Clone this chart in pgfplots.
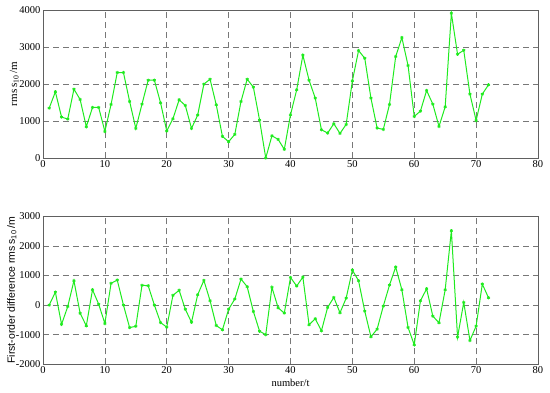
\documentclass[border=0pt]{standalone}
\usepackage{pgfplots}
\pgfplotsset{compat=1.18}
\usepackage{fontspec}
\setmainfont{Liberation Serif}
\newfontfamily\labsans{Liberation Sans}
\definecolor{lgreen}{RGB}{30,235,30}
\definecolor{gridc}{RGB}{120,120,120}

\pgfplotsset{
  panel/.style={
    scale only axis,
    width=495pt, height=148pt,
    xmin=0, xmax=80, xtick={0,10,...,80},
    grid=major,
    major grid style={gridc, dashed, dash pattern=on 6pt off 4pt, line width=0.6pt},
    axis line style={gridc!80!black, line width=0.6pt},
    tick style={draw=none},
    ticklabel style={font=\fontsize{10.5}{10.5}\selectfont},
    /pgf/number format/assume math mode=true,
    /pgf/number format/1000 sep={},
    xticklabel style={yshift=1pt},
    yticklabel style={xshift=1pt},
  },
  series/.style={lgreen, line width=1pt, mark=asterisk, mark size=1.6pt,
    mark options={solid, line width=0.8pt}},
}

\begin{document}
\begin{tikzpicture}[x=1pt,y=1pt]
\useasboundingbox (0,0) rectangle (550,392);

% top panel: rms s10
\begin{axis}[panel, at={(43pt,234pt)}, anchor=south west,
  ymin=0, ymax=4000, ytick={0,1000,...,4000},
  ylabel={rms\,s\textsubscript{10}\,/m},
  ylabel style={font=\fontsize{11}{11}\selectfont, anchor=center, at={(axis description cs:-0.058,0.5)}},
]
\addplot[series] coordinates {
(1,1348) (2,1789) (3,1106) (4,1052) (5,1861) (6,1582) (7,845) (8,1366) (9,1366) (10,719)
(11,1447) (12,2310) (13,2310) (14,1528) (15,800) (16,1456) (17,2103) (18,2103) (19,1492) (20,728)
(21,1061) (22,1573) (23,1420) (24,800) (25,1160) (26,1996) (27,2130) (28,1438) (29,584) (30,440)
(31,638) (32,1528) (33,2130) (34,1915) (35,1025) (36,0) (37,600) (38,503) (39,234) (40,1169)
(41,1843) (42,2778) (43,2103) (44,1618) (45,764) (46,674) (47,926) (48,665) (49,908) (50,2085)
(51,2903) (52,2697) (53,1618) (54,809) (55,773) (56,1447) (57,2742) (58,3254) (59,2499) (60,1124)
(61,1267) (62,1825) (63,1456) (64,854) (65,1384) (66,3910) (67,2804) (68,2912) (69,1726) (70,1016)
(71,1726) (72,1978)
};
\end{axis}

% bottom panel: first-order difference
\begin{axis}[panel, at={(43pt,27.7pt)}, anchor=south west,
  ymin=-2000, ymax=3000, ytick={-2000,-1000,...,3000},
  ylabel={\labsans First-order difference rms\,s\textsubscript{10}\,/m},
  ylabel style={font=\fontsize{10.5}{10.5}\selectfont, anchor=center, at={(axis description cs:-0.063,0.5)}},
  xlabel={number/t},
  xlabel style={font=\fontsize{10.5}{10.5}\selectfont, at={(axis description cs:0.5,-0.075)}},
]
\addplot[series] coordinates {
(1,0) (2,437) (3,-650) (4,-50) (5,825) (6,-275) (7,-700) (8,520) (9,30) (10,-620)
(11,735) (12,847) (13,0) (14,-760) (15,-715) (16,668) (17,657) (18,0) (19,-590) (20,-745)
(21,330) (22,500) (23,-140) (24,-580) (25,350) (26,835) (27,150) (28,-690) (29,-835) (30,-140)
(31,205) (32,880) (33,622) (34,-215) (35,-880) (36,-1000) (37,600) (38,-90) (39,-270) (40,935)
(41,643) (42,947) (43,-665) (44,-462) (45,-868) (46,-79) (47,259) (48,-259) (49,237) (50,1184)
(51,823) (52,-203) (53,-1071) (54,-812) (55,-34) (56,676) (57,1285) (58,519) (59,-755) (60,-1342)
(61,147) (62,552) (63,-372) (64,-598) (65,519) (66,2514) (67,-1082) (68,90) (69,-1195) (70,-710)
(71,710) (72,248)
};
\end{axis}
\end{tikzpicture}
\end{document}
